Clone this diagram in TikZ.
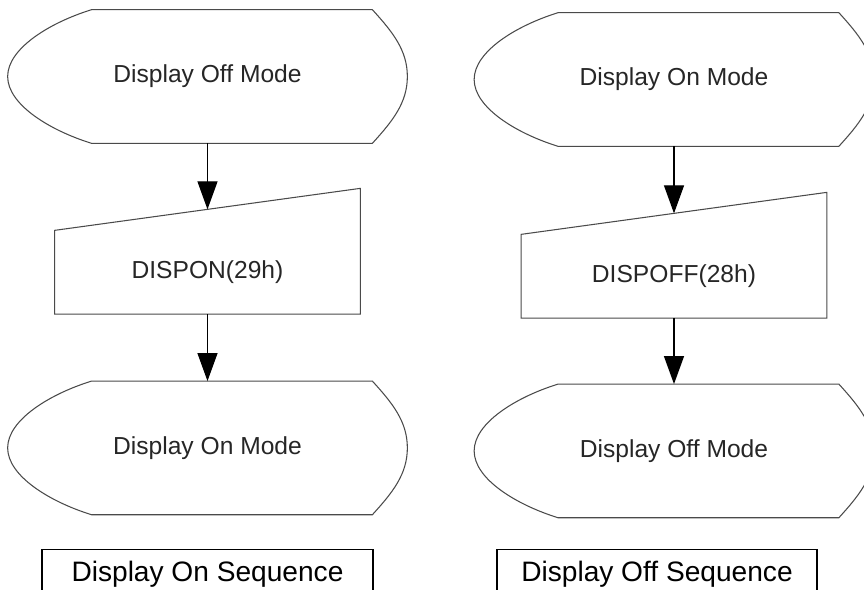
\documentclass[tikz,border=0pt]{standalone}
\usepackage{fontspec}
\setmainfont{Liberation Sans}
\usetikzlibrary{arrows.meta, positioning, calc}
\definecolor{lineaGris}{HTML}{4A4A4A}

% display symbol round a node: curved left end, rounded point on the right
\newcommand{\dispframe}[1]{%
  \draw[outl] ($(#1.north west)+(1.68,0)$) -- ($(#1.north east)+(-0.7,0)$)
    .. controls ($(#1.north east)+(-0.3,-0.44)$) and ($(#1.east)+(0,0.53)$) .. (#1.east)
    .. controls ($(#1.east)+(0,-0.53)$) and ($(#1.south east)+(-0.3,0.44)$) .. ($(#1.south east)+(-0.7,0)$)
    -- ($(#1.south west)+(1.68,0)$)
    .. controls ($(#1.south west)+(0.84,0.26)$) and ($(#1.west)+(0,-0.56)$) .. (#1.west)
    .. controls ($(#1.west)+(0,0.56)$) and ($(#1.north west)+(0.84,-0.26)$) .. cycle;}
% manual input symbol: top edge rises to the right
\newcommand{\inframe}[1]{%
  \draw[outl] (#1.north west) -- ($(#1.north east)+(0,0.84)$) -- (#1.south east)
    -- (#1.south west) -- cycle;}

\begin{document}
\begin{tikzpicture}[
        node distance=1.74cm,
        mode/.style={minimum width=7.98cm, minimum height=2.66cm, inner sep=0pt,
            text=black!85, font=\fontsize{14}{16}\selectfont},
        cmd/.style={minimum width=6.1cm, minimum height=1.66cm, inner sep=0pt,
            text=black!85, font=\fontsize{14}{16}\selectfont},
        seq/.style={draw, line width=0.7pt, minimum width=6.62cm, minimum height=1cm,
            inner sep=0pt, font=\fontsize{16}{18}\selectfont},
        outl/.style={draw=lineaGris, line width=0.6pt},
        rel/.style={-{Triangle[length=0.56cm, width=0.4cm]}, line width=0.7pt}
    ]
        \useasboundingbox (0,0) rectangle (17.28,-11.8);
        \clip (0,0) rectangle (17.28,-11.8);

        % display on sequence
        \node[mode] (offA) at (4.15,-1.53) {Display Off Mode};
        \node[cmd, below=of offA] (dispon) {DISPON(29h)};
        \node[mode, below=1.34cm of dispon] (onA) {Display On Mode};
        \node[seq, below=0.68cm of onA] (seqOn) {Display On Sequence};

        % display off sequence
        \node[mode] (onB) at (13.48,-1.59) {Display On Mode};
        \node[cmd, below=1.76cm of onB] (dispoff) {DISPOFF(28h)};
        \node[mode, below=1.32cm of dispoff] (offB) {Display Off Mode};
        \node[seq, minimum width=6.4cm, below=0.62cm of offB, xshift=-0.34cm] (seqOff) {Display Off Sequence};

        \dispframe{offA} \inframe{dispon} \dispframe{onA}
        \dispframe{onB} \inframe{dispoff} \dispframe{offB}

        \coordinate (disponIn) at ($(dispon.north)+(0,0.42)$);
        \coordinate (dispoffIn) at ($(dispoff.north)+(0,0.42)$);
        \draw[rel] (offA) -- (disponIn); \draw[rel] (dispon) -- (onA);
        \draw[rel] (onB) -- (dispoffIn); \draw[rel] (dispoff) -- (offB);
    \end{tikzpicture}
\end{document}
